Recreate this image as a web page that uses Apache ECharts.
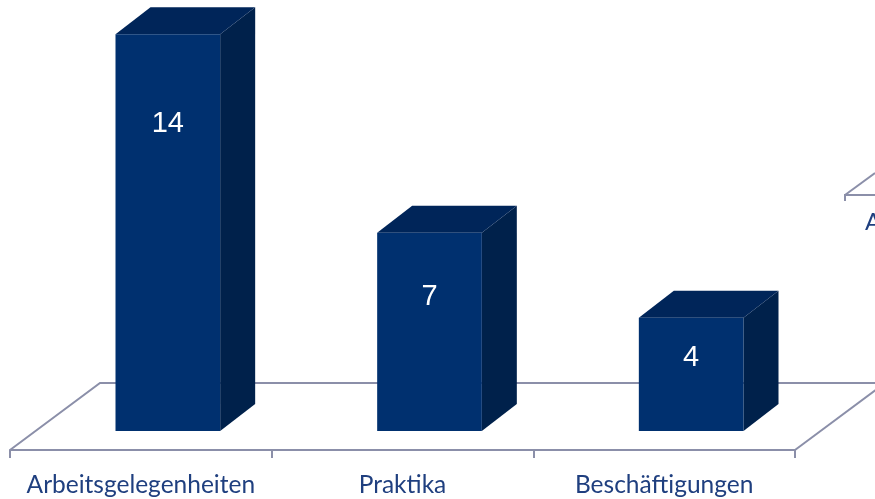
<!DOCTYPE html>
<html>
<head>
<meta charset="utf-8">
<script src="https://cdn.jsdelivr.net/npm/echarts@6/dist/echarts.min.js"></script>
<style>
html, body { margin: 0; padding: 0; background: #ffffff; }
#main { width: 875px; height: 499px; }
</style>
</head>
<body>
<div id="main"></div>
<script>
// Daten
var categories = ['Arbeitsgelegenheiten', 'Praktika', 'Beschäftigungen'];
var values = [14, 7, 4];

var lineColor = '#8b8fa9';
var textColor = '#1f3f7f';
var depth = [35, -27];      // Tiefe der Balken (3D)
var floorDepth = [90, -67]; // Tiefe der Bodenfläche

var myChart = echarts.init(document.getElementById('main'));

// Bodenfläche (Vorderkante = x-Achse)
function renderFloor(params, api) {
    var cs = params.coordSys;
    var yF = cs.y + cs.height;
    var xL = cs.x, xR = cs.x + cs.width;
    var style = { fill: null, stroke: lineColor, lineWidth: 2 };
    return {
        type: 'group',
        children: [
            { type: 'polyline', shape: { points: [
                [xR + floorDepth[0], yF + floorDepth[1]],
                [xL + floorDepth[0], yF + floorDepth[1]],
                [xL, yF]
            ] }, style: style },
            { type: 'line', shape: { x1: xR, y1: yF, x2: xR + floorDepth[0], y2: yF + floorDepth[1] }, style: style }
        ]
    };
}

// 3D-Balken: Vorderseite, Seite, Deckel, Wert
function renderBar(params, api) {
    var base = api.coord([api.value(0), 0]);
    var top = api.coord([api.value(0), api.value(1)]);
    var band = api.size([1, 0])[0];
    var w = band * 0.4;
    var x0 = base[0] + 27 - w / 2;
    var x1 = x0 + w;
    var h = base[1] - top[1];
    var dx = depth[0], dy = depth[1];
    // Lage der Beschriftung wie in der Vorlage (nicht linear)
    var labelY = top[1] - 4.5 + 0.4555 * h - 0.000548 * h * h;
    return {
        type: 'group',
        children: [
            { type: 'polygon', shape: { points: [[x1, top[1]], [x1 + dx, top[1] + dy], [x1 + dx, base[1] + dy], [x1, base[1]]] },
              style: { fill: '#00214b' } },
            { type: 'polygon', shape: { points: [[x0, top[1]], [x0 + dx, top[1] + dy], [x1 + dx, top[1] + dy], [x1, top[1]]] },
              style: { fill: '#002559' } },
            { type: 'rect', shape: { x: x0, y: top[1], width: w, height: h },
              style: { fill: '#00306f' } },
            { type: 'text', x: x0 + w / 2, y: labelY,
              style: { text: String(api.value(1)), fill: '#ffffff', font: '29px "Liberation Sans", Arial, sans-serif',
                       align: 'center', verticalAlign: 'middle' } }
        ]
    };
}

var option = {
    animation: false,
    grid: { left: 10, right: 80, top: 6, bottom: 49 },
    xAxis: {
        type: 'category',
        data: categories,
        axisLine: { onZero: false, lineStyle: { color: lineColor, width: 2 } },
        axisTick: { show: true, interval: 0, length: 8, lineStyle: { color: lineColor, width: 2 } },
        axisLabel: { interval: 0, color: textColor, fontSize: 24.5, fontFamily: 'Lato', margin: 23 },
        splitLine: { show: false }
    },
    // Boden liegt 19 px unter dem Balkenfuß
    yAxis: { type: 'value', min: -0.67, max: 15, show: false },
    series: [
        { type: 'custom', renderItem: renderFloor, data: [[0]], z: 1, silent: true },
        {
            type: 'custom',
            renderItem: renderBar,
            data: values.map(function (v, i) { return [i, v]; }),
            encode: { x: 0, y: 1 },
            z: 2
        }
    ],
    // angeschnittenes zweites Diagramm am rechten Rand
    graphic: [
        { type: 'polyline', shape: { points: [[875, 195], [845, 195], [845, 201]] }, style: { fill: null, stroke: lineColor, lineWidth: 2 } },
        { type: 'line', shape: { x1: 845, y1: 195, x2: 875, y2: 173 }, style: { stroke: lineColor, lineWidth: 2 } },
        { type: 'text', x: 865, y: 222, style: { text: 'Arbeitsgelegenheiten', fill: textColor, font: '24px Lato', verticalAlign: 'middle' } }
    ]
};

myChart.setOption(option);
</script>
</body>
</html>
